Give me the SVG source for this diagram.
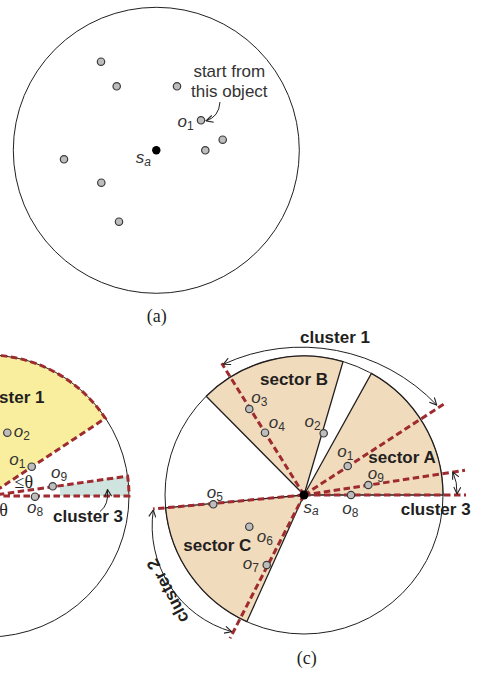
<svg xmlns="http://www.w3.org/2000/svg" width="483" height="676" viewBox="0 0 483 676">
<style>
.bg{fill:#ffffff}
.ring{fill:#ffffff;stroke:#231f20;stroke-width:1}
.ringn{fill:none;stroke:#231f20;stroke-width:1}
.dot{fill:#bdbdbd;stroke:#3a3a3a;stroke-width:1.2}
.sdot{fill:#000000}
.sect{fill:#f1dbbd;stroke:#231f20;stroke-width:1.3}
.yel{fill:#f8ee9e}
.teal{fill:#cfe3df}
.dash{fill:none;stroke:#9e2b2f;stroke-width:3;stroke-dasharray:6.5 3.5}
.conn{fill:none;stroke:#231f20;stroke-width:1}
.lb{font-family:"Liberation Sans",Arial,sans-serif;font-size:17px;fill:#333333}
.it{font-style:italic}
.sub{font-size:12px}
.bd{font-family:"Liberation Sans",Arial,sans-serif;font-size:17px;font-weight:bold;fill:#231f20}
.sf{font-family:"Liberation Serif","Times New Roman",serif;font-size:18px;fill:#231f20}
</style>
<defs>
<marker id="arr" viewBox="0 0 8 8" refX="7.5" refY="4" markerWidth="8" markerHeight="8" markerUnits="userSpaceOnUse" orient="auto-start-reverse">
<path d="M0.5,0.5 L7.5,4 L0.5,7.5" fill="none" stroke="#231f20" stroke-width="1.1"/>
</marker>
</defs>
<rect class="bg" x="0" y="0" width="483" height="676"/>

<!-- Panel (a) -->
<g id="panel-a">
<circle id="a-ring" class="ring" cx="156.3" cy="150.3" r="143"/>
<g id="a-nodes">
<circle id="a-p1" class="dot" cx="101" cy="61.7" r="3.7"/>
<circle id="a-p2" class="dot" cx="116.7" cy="86.3" r="3.7"/>
<circle id="a-p3" class="dot" cx="177" cy="86.3" r="3.7"/>
<g id="a-o1"><circle class="dot" cx="201" cy="120.3" r="3.7"/>
<text class="lb" x="177.5" y="126.7"><tspan class="it">o</tspan><tspan class="sub" dy="3">1</tspan></text></g>
<circle id="a-p5" class="dot" cx="222.7" cy="139.7" r="3.7"/>
<circle id="a-p6" class="dot" cx="205.3" cy="150.3" r="3.7"/>
<g id="a-sa"><circle class="sdot" cx="156.3" cy="150.3" r="4.2"/>
<text class="lb" x="135.8" y="163.3"><tspan class="it">s</tspan><tspan class="sub it" dy="2.5">a</tspan></text></g>
<circle id="a-p8" class="dot" cx="64" cy="159.3" r="3.7"/>
<circle id="a-p9" class="dot" cx="101.3" cy="182.7" r="3.7"/>
<circle id="a-p10" class="dot" cx="119" cy="221.7" r="3.7"/>
<text id="a-note" class="lb" text-anchor="middle"><tspan x="229.3" y="76.5">start from</tspan><tspan x="229.3" y="97">this object</tspan></text>
</g>
<g id="a-connectors">
<path class="conn" d="M220,102 Q219,117 206,120.8" marker-end="url(#arr)"/>
</g>
<text id="a-cap" class="sf" x="156.7" y="321.5" text-anchor="middle">(a)</text>
</g>

<!-- Panel (b) -->
<g id="panel-b">
<path id="b-yellow" class="yel" d="M-12,496 L105.3,418.3 A141,141 0 0 0 -12,355 Z"/>
<path id="b-teal" class="teal" d="M60,485.7 L127.6,476.1 A141,141 0 0 1 129,496 L60,496 Z"/>
<circle id="b-ring" class="ringn" cx="-12" cy="496" r="141"/>
<g id="b-connectors">
<path class="dash" d="M-12,496 L105.3,418.3 A141,141 0 0 0 -12,355"/>
<path class="dash" d="M-12,496 L127.6,476.1 A141,141 0 0 1 129,496 L-12,496"/>
<path class="conn" d="M100,511.5 Q109,505 107.5,489.5" marker-end="url(#arr)"/>
</g>
<g id="b-nodes">
<g id="b-o2"><circle class="dot" cx="7.3" cy="432.7" r="3.7"/>
<text class="lb" x="13.8" y="437"><tspan class="it">o</tspan><tspan class="sub" dy="3">2</tspan></text></g>
<g id="b-o1"><circle class="dot" cx="31.7" cy="466.7" r="3.7"/>
<text class="lb" x="9.3" y="465"><tspan class="it">o</tspan><tspan class="sub" dy="3">1</tspan></text></g>
<g id="b-o9"><circle class="dot" cx="52.7" cy="486.3" r="3.7"/>
<text class="lb" x="51" y="477.7"><tspan class="it">o</tspan><tspan class="sub" dy="3">9</tspan></text></g>
<g id="b-o8"><circle class="dot" cx="35" cy="496.7" r="3.7"/>
<text class="lb" x="27" y="513.3"><tspan class="it">o</tspan><tspan class="sub" dy="3">8</tspan></text></g>
<text id="b-theta1" class="sf" x="14.5" y="488.3">≤θ</text>
<text id="b-theta2" class="sf" x="8" y="515.5" text-anchor="end">≤θ</text>
<text id="b-cl1" class="bd" x="44.5" y="403" text-anchor="end">cluster 1</text>
<text id="b-cl3" class="bd" x="53" y="521.7">cluster 3</text>
</g>
</g>

<!-- Panel (c) -->
<g id="panel-c">
<circle id="c-ring" class="ring" cx="304" cy="495" r="139"/>
<g id="c-sectors">
<path id="sector-A" class="sect" d="M304,495 L443,495 A139,139 0 0 0 371.4,373.4 Z"/>
<path id="sector-B" class="sect" d="M304,495 L343,361.6 A139,139 0 0 0 206.2,396.2 Z"/>
<path id="sector-C" class="sect" d="M304,495 L165.6,507.8 A139,139 0 0 0 246.8,621.7 Z"/>
</g>
<g id="c-connectors">
<path class="dash" d="M304,495 L153,509"/>
<path class="dash" d="M304,495 L230,638.3"/>
<path class="dash" d="M304,495 L221.7,363.3"/>
<path class="dash" d="M304,495 L445,403.3"/>
<path class="dash" d="M304,495 L465,470.3"/>
<path class="dash" d="M304,495 L466,495"/>
<path class="conn" d="M223.3,364.3 A187,187 0 0 1 436.7,405" marker-start="url(#arr)" marker-end="url(#arr)"/>
<path class="conn" d="M153.3,510 A110,110 0 0 0 231.7,631.7" marker-start="url(#arr)" marker-end="url(#arr)"/>
<path class="conn" d="M452.8,472 Q457.5,482 457,494" marker-start="url(#arr)" marker-end="url(#arr)"/>
</g>
<g id="c-nodes">
<g id="c-o3"><circle class="dot" cx="249.3" cy="409" r="3.7"/>
<text class="lb" x="251.2" y="403.3"><tspan class="it">o</tspan><tspan class="sub" dy="3">3</tspan></text></g>
<g id="c-o4"><circle class="dot" cx="265" cy="432.7" r="3.7"/>
<text class="lb" x="268.8" y="428.3"><tspan class="it">o</tspan><tspan class="sub" dy="3">4</tspan></text></g>
<g id="c-o2"><circle class="dot" cx="323.7" cy="433.3" r="3.7"/>
<text class="lb" x="304.5" y="426.7"><tspan class="it">o</tspan><tspan class="sub" dy="3">2</tspan></text></g>
<g id="c-o1"><circle class="dot" cx="347.7" cy="466" r="3.7"/>
<text class="lb" x="337.2" y="456.7"><tspan class="it">o</tspan><tspan class="sub" dy="3">1</tspan></text></g>
<g id="c-o9"><circle class="dot" cx="368.3" cy="485" r="3.7"/>
<text class="lb" x="367.8" y="479"><tspan class="it">o</tspan><tspan class="sub" dy="3">9</tspan></text></g>
<g id="c-o8"><circle class="dot" cx="351" cy="495" r="3.7"/>
<text class="lb" x="342.2" y="514"><tspan class="it">o</tspan><tspan class="sub" dy="3">8</tspan></text></g>
<g id="c-o5"><circle class="dot" cx="213.3" cy="504.3" r="3.7"/>
<text class="lb" x="206.8" y="498.3"><tspan class="it">o</tspan><tspan class="sub" dy="3">5</tspan></text></g>
<g id="c-o6"><circle class="dot" cx="249.3" cy="526.7" r="3.7"/>
<text class="lb" x="256.8" y="541.7"><tspan class="it">o</tspan><tspan class="sub" dy="3">6</tspan></text></g>
<g id="c-o7"><circle class="dot" cx="266.7" cy="565" r="3.7"/>
<text class="lb" x="242.8" y="568.8"><tspan class="it">o</tspan><tspan class="sub" dy="3">7</tspan></text></g>
<g id="c-sa"><circle class="sdot" cx="304" cy="495" r="4.5"/>
<text class="lb" x="303.5" y="512.7"><tspan class="it">s</tspan><tspan class="sub it" dy="2.5">a</tspan></text></g>
<text id="c-secB" class="bd" x="260" y="385">sector B</text>
<text id="c-secA" class="bd" x="368.3" y="463.3">sector A</text>
<text id="c-secC" class="bd" x="183.3" y="551">sector C</text>
<text id="c-cl1" class="bd" x="335" y="342.7" text-anchor="middle">cluster 1</text>
<text id="c-cl3" class="bd" x="400.7" y="515">cluster 3</text>
<text id="c-cl2" class="bd" transform="translate(172.8,588.2) rotate(-118)" text-anchor="middle">cluster 2</text>
</g>
<text id="c-cap" class="sf" x="306.7" y="664" text-anchor="middle">(c)</text>
</g>
</svg>
